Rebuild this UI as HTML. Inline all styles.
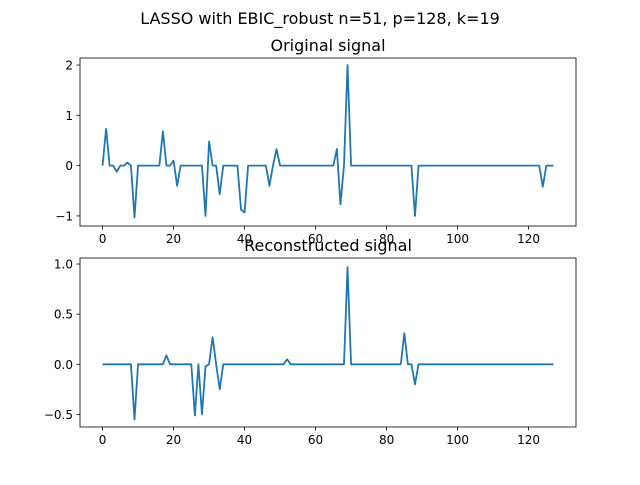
<!DOCTYPE html>
<html><head><meta charset="utf-8"><style>
body{margin:0;background:#fff}
svg text{font-family:"DejaVu Sans","Liberation Sans",sans-serif;fill:#000}
</style></head><body>
<svg id="fig" width="640" height="480" xmlns="http://www.w3.org/2000/svg">
<rect width="640" height="480" fill="#fff"/>
<text x="320" y="24" font-size="16" text-anchor="middle">LASSO with EBIC_robust n=51, p=128, k=19</text>
</svg>
<script>
const N = 128;
const origIdx = [1,4,7,9,17,20,21,29,30,33,39,40,47,49,66,67,69,88,124];
const origVal = [0.73,-0.12,0.06,-1.03,0.68,0.1,-0.4,-1.0,0.48,-0.57,-0.87,-0.93,-0.4,0.33,0.33,-0.77,2.0,-1.0,-0.42];
const recIdx = [9,18,26,28,29,31,33,52,69,85,88];
const recVal = [-0.55,0.09,-0.51,-0.5,-0.02,0.27,-0.25,0.05,0.97,0.31,-0.2];
const xTicks = [0,20,40,60,80,100,120];
const topYTicks = [-1,0,1,2];
const botYTicks = [-0.5,0.0,0.5,1.0];
const botYLabels = ["−0.5","0.0","0.5","1.0"];
const topYLabels = ["−1","0","1","2"];

const svg = document.getElementById('fig');
const NS = 'http://www.w3.org/2000/svg';
function mk(tag, attrs){const e=document.createElementNS(NS,tag);for(const k in attrs)e.setAttribute(k,attrs[k]);svg.appendChild(e);return e;}
function dense(idx,val){const a=new Array(N).fill(0);idx.forEach((i,j)=>a[i]=val[j]);return a;}

function panel(name, top, bottom, ymin, ymax, data, yt, ytl, title){
  const L=80,R=576;
  const xs=v=>L+(v-(-6.35))/(133.35-(-6.35))*(R-L);
  const ys=v=>bottom-(v-ymin)/(ymax-ymin)*(bottom-top);
  let t=mk('text',{x:(L+R)/2,y:top-7,'font-size':16,'text-anchor':'middle'});t.textContent=title;
  
  
  xTicks.forEach(v=>{
    const l=mk('line',{x1:xs(v),x2:xs(v),y1:bottom,y2:bottom+3.5,stroke:'#000','stroke-width':0.8});
    
    
    const tx=mk('text',{x:xs(v),y:bottom+17,'font-size':12,'text-anchor':'middle'});tx.textContent=v;
    
    
  });
  yt.forEach((v,i)=>{
    const l=mk('line',{x1:L-3.5,x2:L,y1:ys(v),y2:ys(v),stroke:'#000','stroke-width':0.8});
    
    
    const tx=mk('text',{x:L-7,y:ys(v)+4.5,'font-size':12,'text-anchor':'end'});tx.textContent=ytl[i];
    
    
  });
  const pts=data.map((v,i)=>xs(i).toFixed(2)+','+ys(v).toFixed(2)).join(' ');
  const pl=mk('polyline',{points:pts,fill:'none',stroke:'#1f77b4','stroke-width':1.8,'stroke-linejoin':'round'});
  
  
  const fr=mk('rect',{x:L,y:top,width:R-L,height:bottom-top,fill:'none',stroke:'#000','stroke-width':0.8});
  
  
}
panel('original-signal',58,226,-1.2,2.14,dense(origIdx,origVal),topYTicks,topYLabels,'Original signal');
panel('reconstructed-signal',258,427,-0.625,1.06,dense(recIdx,recVal),botYTicks,botYLabels,'Reconstructed signal');
</script>
</body></html>
